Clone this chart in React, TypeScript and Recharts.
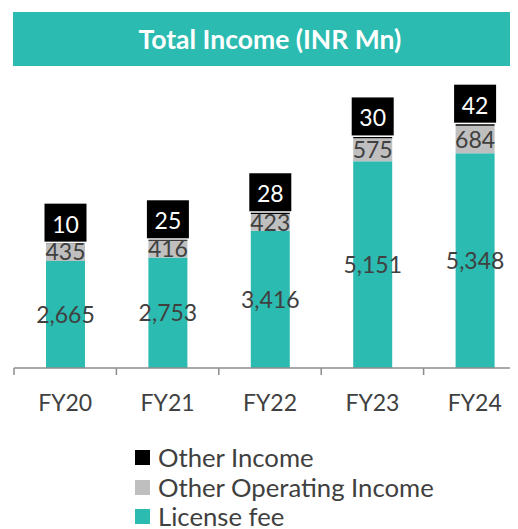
import React from "react";
import { BarChart, Bar, XAxis, YAxis, Legend, LabelList } from "recharts";

const categories = ["FY20", "FY21", "FY22", "FY23", "FY24"];
const licenseFee = [2665, 2753, 3416, 5151, 5348];
const otherOperatingIncome = [435, 416, 423, 575, 684];
const otherIncome = [10, 25, 28, 30, 42];
const legendOrder = ["Other Income", "Other Operating Income", "License fee"];

const data = categories.map((name, i) => ({
  name,
  license: licenseFee[i],
  otherOp: otherOperatingIncome[i],
  other: otherIncome[i],
}));

const TEAL = "#2bbbb0";
const GRAY = "#bfbfbf";
const BLACK = "#000000";
const TEXT = "#404040";
const AXIS = "#8c8c8c";
const FONT = "Lato, 'Open Sans', sans-serif";

const W = 520;
const H = 521;
const MARGIN = { top: 79, right: 2, bottom: 121, left: 6 };
const BAND = (W - MARGIN.left - MARGIN.right) / categories.length;

const fmt = (v: number) => v.toLocaleString("en-US");

function BoundaryTick(props: any) {
  const { x, y, payload } = props;
  const axisY = y - 7;
  const left = x - BAND / 2;
  return (
    <g>
      <line x1={left} y1={axisY} x2={left} y2={axisY + 7} stroke={AXIS} strokeWidth={1.5} />
      <text x={x} y={y + 35.7} textAnchor="middle" fill={TEXT} fontSize={23} fontFamily={FONT}>
        {payload.value}
      </text>
    </g>
  );
}

function BoxLabel(props: any) {
  const { x, y, width, value } = props;
  const bx = x - 1.5;
  const bw = width + 3;
  const bh = 38;
  const by = y - bh - 1.5;
  return (
    <g>
      <rect x={bx} y={by} width={bw} height={bh} fill={BLACK} />
      <text
        x={x + width / 2}
        y={by + bh / 2 + 1}
        textAnchor="middle"
        dominantBaseline="central"
        fill="#ffffff"
        fontSize={23}
        fontFamily={FONT}
      >
        {value}
      </text>
    </g>
  );
}

function LegendList(props: any) {
  const payload = props.payload || [];
  const items = legendOrder
    .map((n) => payload.find((p: any) => p.value === n))
    .filter(Boolean);
  return (
    <div style={{ fontFamily: FONT, fontSize: 25.7, color: TEXT, lineHeight: "29.5px" }}>
      {items.map((it: any) => (
        <div key={it.value} style={{ display: "flex", alignItems: "center", whiteSpace: "nowrap", height: 29.5 }}>
          <span style={{ width: 15, height: 15, background: it.color, marginRight: 8, display: "inline-block", flex: "none" }} />
          <span>{it.value}</span>
        </div>
      ))}
    </div>
  );
}

export default function App() {
  return (
    <div style={{ position: "relative", width: 510, height: 521, overflow: "hidden", fontFamily: FONT }}>
      <div
        style={{
          position: "absolute",
          left: 5,
          top: 4,
          width: 514,
          height: 54,
          background: TEAL,
          color: "#ffffff",
          fontWeight: 700,
          fontSize: 26.5,
          display: "flex",
          alignItems: "center",
          justifyContent: "center",
          zIndex: 1,
        }}
      >
        Total Income (INR Mn)
      </div>
      <BarChart width={W} height={H} data={data} margin={MARGIN} barSize={39}>
        <XAxis
          dataKey="name"
          axisLine={{ stroke: AXIS, strokeWidth: 1.5 }}
          tickLine={false}
          tickSize={7}
          tickMargin={0}
          height={40}
          interval={0}
          tick={<BoundaryTick />}
        />
        <YAxis hide domain={[0, 7000]} />
        <Legend
          layout="vertical"
          align="center"
          verticalAlign="middle"
          wrapperStyle={{ position: "absolute", left: 127, top: 435, width: "auto" }}
          content={<LegendList />}
        />
        <Bar dataKey="license" name="License fee" stackId="a" fill={TEAL} isAnimationActive={false}>
          <LabelList dataKey="license" position="center" formatter={fmt} fill={TEXT} fontSize={23} fontFamily={FONT} />
        </Bar>
        <Bar dataKey="otherOp" name="Other Operating Income" stackId="a" fill={GRAY} isAnimationActive={false}>
          <LabelList dataKey="otherOp" position="center" formatter={fmt} fill={TEXT} fontSize={23} fontFamily={FONT} />
        </Bar>
        <Bar dataKey="other" name="Other Income" stackId="a" fill={BLACK} isAnimationActive={false}>
          <LabelList dataKey="other" content={<BoxLabel />} />
        </Bar>
      </BarChart>
    </div>
  );
}
